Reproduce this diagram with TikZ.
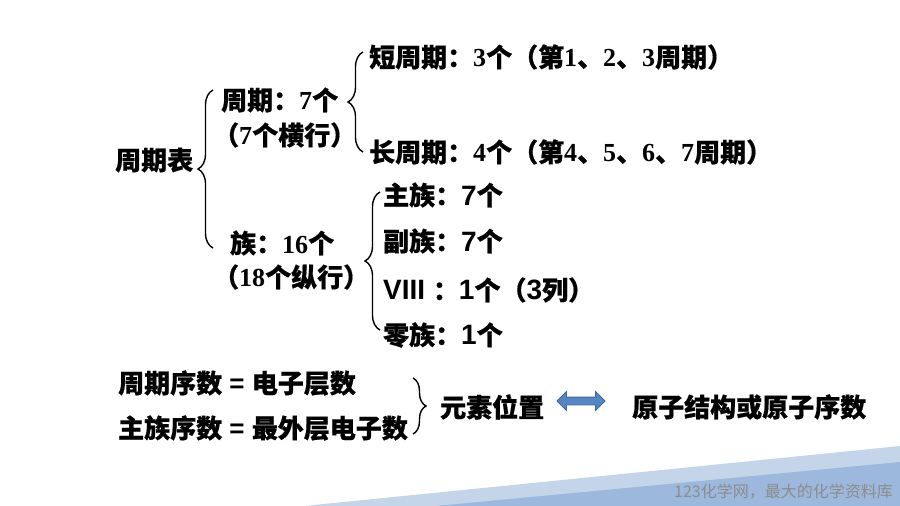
\documentclass[tikz,border=0pt]{standalone}
\usepackage{fontspec}
\usetikzlibrary{decorations.pathreplacing,shapes.arrows}
\newfontfamily\cj{Noto Sans CJK SC}[BoldFeatures={FakeBold=0.6}]
\newfontfamily\tmf{Liberation Serif}
\newfontfamily\arf{Liberation Sans}
\newcommand\Tm[1]{{\tmf\bfseries #1}}
\newcommand\Ar[1]{{\arf\bfseries\fontsize{28}{30}\selectfont #1}}
\newcommand\Eq{{\arf\bfseries\ = }}
\definecolor{bandlight}{HTML}{C4D5EA}
\definecolor{banddark}{HTML}{9CB8DC}
\definecolor{arrowfill}{HTML}{5585C2}
\definecolor{arrowline}{HTML}{3E6A9E}
\begin{document}
\begin{tikzpicture}[x=1pt,y=-1pt,
  txt/.style={anchor=west,inner sep=0pt,font=\cj\bfseries\fontsize{26}{30}\selectfont},
  bracel/.style={decorate,decoration={brace,amplitude=#1},line width=1.4pt},
  wm/.style={anchor=east,inner sep=0pt,text=black!45,font=\cj\fontsize{16}{18}\selectfont}]
\useasboundingbox (0,0) rectangle (900,506);
% background bands
\fill[bandlight] (304,506) -- (900,446) -- (900,506) -- cycle;
\fill[banddark] (436,506) -- (900,462) -- (900,506) -- cycle;
\node[wm] (wmark) at (893,492) {123化学网，最大的化学资料库};
% texts
\node[txt] (tbl) at (115,160) {周期表};
\node[txt] (per) at (221,100) {周期：\Tm{7}个};
\node[txt] (perb) at (213,135) {（\Tm{7}个横行）};
\node[txt] (short) at (369,57) {短周期：\Tm{3}个（第\Tm{1}、\Tm{2}、\Tm{3}周期）};
\node[txt] (long) at (369,152) {长周期：\Tm{4}个（第\Tm{4}、\Tm{5}、\Tm{6}、\Tm{7}周期）};
\node[txt] (grp) at (230,243) {族：\Tm{16}个};
\node[txt] (grpb) at (213,277) {（\Tm{18}个纵行）};
\node[txt] (main) at (383,195) {主族：\Ar{7}个};
\node[txt] (sub) at (383,241) {副族：\Ar{7}个};
\node[txt] (viii) at (383,290) {\Ar{VIII }：\Ar{1}个（\Ar{3}列）};
\node[txt] (zero) at (383,335) {零族：\Ar{1}个};
\node[txt] (r1) at (118,383) {周期序数\Eq 电子层数};
\node[txt] (r2) at (118,428) {主族序数\Eq 最外层电子数};
\node[txt] (pos) at (440,407) {元素位置};
\node[txt] (struct) at (632,407) {原子结构或原子序数};
\node[double arrow,fill=arrowfill,draw=arrowline,line width=0.8pt,
  minimum height=48pt,minimum width=18pt,inner sep=3.5pt,
  double arrow head extend=5.5pt] (arr) at (581,401) {};
% brace endpoints
\coordinate (b1t) at (213,90);  \coordinate (b1b) at (213,248);
\coordinate (b2t) at (363,52);  \coordinate (b2b) at (363,152);
\coordinate (b3t) at (380,192); \coordinate (b3b) at (380,330);
\coordinate (b4t) at (413,378); \coordinate (b4b) at (413,434);
\draw[bracel=15pt] (b1b) -- (b1t);
\draw[bracel=15pt] (b2b) -- (b2t);
\draw[bracel=15pt] (b3b) -- (b3t);
\draw[bracel=13pt] (b4t) -- (b4b);
\end{tikzpicture}
\end{document}
